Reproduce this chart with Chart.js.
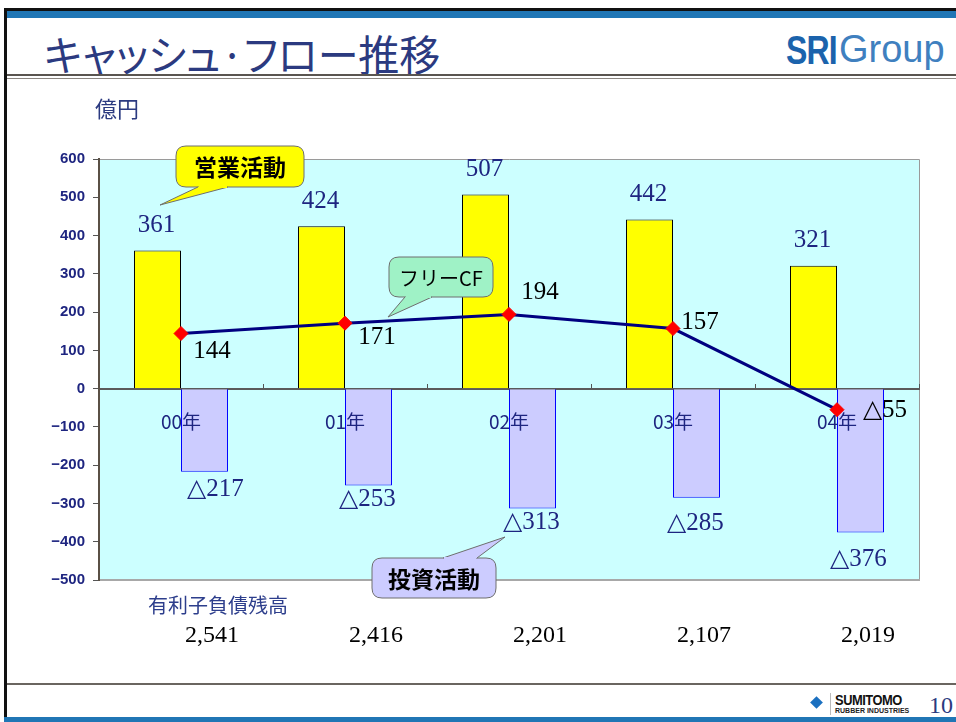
<!DOCTYPE html>
<html>
<head>
<meta charset="utf-8">
<script src="https://cdn.jsdelivr.net/npm/chart.js@4"></script>
<style>
  html, body { margin: 0; padding: 0; background: #fff; }
  #slide { position: relative; width: 956px; height: 722px; overflow: hidden; background: #fff; }
  #chart { position: absolute; left: 0; top: 0; }
  .topline { position: absolute; left: 4px; right: 0; top: 8px; height: 3px; background: #111; }
  .topband { position: absolute; left: 4px; right: 0; top: 11px; height: 7px; background: #2076b5; }
  .leftline { position: absolute; left: 4px; top: 8px; bottom: 0; width: 3px; background: #111; }
  .sep1 { position: absolute; left: 7px; right: 0; top: 74px; height: 2px; background: #5a5550; }
  .sep2 { position: absolute; left: 7px; right: 0; top: 78px; height: 1px; background: #8a8580; }
  .footline { position: absolute; left: 7px; right: 0; top: 683px; height: 2px; background: #6a6560; }
  .bottomband { position: absolute; left: 4px; right: 0; top: 717px; height: 5px; background: #2076b5; }
  .title { position: absolute; left: 44px; top: 22px; font: 41px "Noto Sans CJK JP", sans-serif; color: #2b3a80; white-space: nowrap; font-feature-settings: "palt"; transform: scale(1.0, 1.02); transform-origin: left top; }
  .logo { position: absolute; left: 786px; top: 28px; white-space: nowrap; }
  .logo .sri { display: inline-block; font: bold 40px "Liberation Sans", sans-serif; color: #1b63ac; letter-spacing: -1px; transform: scaleX(0.8); transform-origin: left top; }
  .logo .grp { position: absolute; left: 53px; top: 0; font: 38px "Liberation Sans", sans-serif; color: #3f80bf; }
  .foot { position: absolute; left: 810px; top: 692px; white-space: nowrap; }
  .dia { position: absolute; left: 2px; top: 6px; width: 9px; height: 9px; background: #1b70c0; transform: rotate(45deg); }
  .vbar { position: absolute; left: 20px; top: 1px; width: 1px; height: 22px; background: #bbb; }
  .sumi { position: absolute; left: 25px; top: 0px; font: bold 14px "Liberation Sans", sans-serif; color: #111; letter-spacing: -0.5px; transform: scaleX(0.92); transform-origin: left top; }
  .rubb { position: absolute; left: 25px; top: 15px; font: bold 7px "Liberation Sans", sans-serif; color: #222; }
  .page { position: absolute; left: 929px; top: 692px; font: 24px "Liberation Serif", serif; color: #2b3a80; }
</style>
</head>
<body>
<div id="slide">
  <div class="topline"></div>
  <div class="topband"></div>
  <div class="leftline"></div>
  <div class="title">キャッシュ·フロー推移</div>
  <div class="logo"><span class="sri">SRI</span><span class="grp">Group</span></div>
  <div class="sep1"></div>
  <div class="sep2"></div>
  <div class="footline"></div>
  <div class="foot"><div class="dia"></div><div class="vbar"></div><div class="sumi">SUMITOMO</div><div class="rubb">RUBBER INDUSTRIES</div></div>
  <div class="page">10</div>
  <div class="bottomband"></div>
  <canvas id="chart" width="956" height="722"></canvas>
</div>
<script>
// fiscal years
const years = ['00年', '01年', '02年', '03年', '04年'];
// 営業活動 (operating CF), 億円
const operating = [361, 424, 507, 442, 321];
// 投資活動 (investing CF), 億円
const investing = [-217, -253, -313, -285, -376];
// フリーCF
const freeCF = [144, 171, 194, 157, -55];
// 有利子負債残高
const debt = ['2,541', '2,416', '2,201', '2,107', '2,019'];
const yTicks = { min: -500, max: 600, step: 100 };

// label offsets (px) relative to the marks
const freeLabelDx = [31, 32, 31, 27, 48];
const freeLabelDy = [18, 14, -22, -6, 1];
const investLabelDy = [18, 14, 14, 26, 27];
const investLabelDx = [11, -1, -1, -1, -2];

const NAVY = '#1e2580';
const JP = '"Noto Sans CJK JP", sans-serif';
const SERIF = '"Liberation Serif", "Times New Roman", serif';

function roundRect(ctx, x, y, w, h, r) {
  ctx.beginPath();
  ctx.moveTo(x + r, y);
  ctx.lineTo(x + w - r, y);
  ctx.quadraticCurveTo(x + w, y, x + w, y + r);
  ctx.lineTo(x + w, y + h - r);
  ctx.quadraticCurveTo(x + w, y + h, x + w - r, y + h);
  ctx.lineTo(x + r, y + h);
  ctx.quadraticCurveTo(x, y + h, x, y + h - r);
  ctx.lineTo(x, y + r);
  ctx.quadraticCurveTo(x, y, x + r, y);
  ctx.closePath();
}

// callout: box plus a wedge tail; tail = [baseX1, baseX2, baseY, tipX, tipY]
function callout(ctx, box, tail, fill, text, font) {
  const [x, y, w, h] = box;
  ctx.save();
  ctx.fillStyle = fill;
  ctx.strokeStyle = '#6e6e6e';
  ctx.lineWidth = 1;
  roundRect(ctx, x, y, w, h, 10);
  ctx.fill();
  ctx.stroke();
  ctx.beginPath();
  ctx.moveTo(tail[0], tail[2]);
  ctx.lineTo(tail[3], tail[4]);
  ctx.lineTo(tail[1], tail[2]);
  ctx.closePath();
  ctx.fill();
  ctx.beginPath();
  ctx.moveTo(tail[0], tail[2]);
  ctx.lineTo(tail[3], tail[4]);
  ctx.lineTo(tail[1], tail[2]);
  ctx.stroke();
  // cover the box edge under the tail base
  ctx.strokeStyle = fill;
  ctx.lineWidth = 2;
  ctx.beginPath();
  ctx.moveTo(tail[0] + 1, tail[2]);
  ctx.lineTo(tail[1] - 1, tail[2]);
  ctx.stroke();
  ctx.fillStyle = '#000';
  ctx.font = font;
  ctx.textAlign = 'center';
  ctx.textBaseline = 'middle';
  ctx.fillText(text, x + w / 2, y + h / 2 + 1);
  ctx.restore();
}

const slidePlugin = {
  id: 'slide',
  beforeDraw(chart) {
    const { ctx, chartArea: a } = chart;
    ctx.save();
    ctx.fillStyle = '#ccffff';
    ctx.fillRect(a.left, a.top, a.right - a.left, a.bottom - a.top);
    ctx.strokeStyle = '#9a9a9a';
    ctx.lineWidth = 1;
    ctx.beginPath();
    ctx.moveTo(a.left, a.top + 0.5);
    ctx.lineTo(a.right + 0.5, a.top + 0.5);
    ctx.lineTo(a.right + 0.5, a.bottom);
    ctx.stroke();
    ctx.strokeStyle = '#a8a8a8';
    ctx.lineWidth = 2;
    ctx.beginPath();
    ctx.moveTo(a.left, a.bottom);
    ctx.lineTo(a.right + 1, a.bottom);
    ctx.stroke();
    ctx.restore();
  },
  afterDraw(chart) {
    const { ctx } = chart;
    const x = chart.scales.x;
    const opMeta = chart.getDatasetMeta(1);
    const invMeta = chart.getDatasetMeta(2);
    const fcMeta = chart.getDatasetMeta(0);
    ctx.save();
    ctx.textAlign = 'center';
    ctx.textBaseline = 'middle';
    ctx.font = '25px ' + SERIF;
    ctx.fillStyle = NAVY;
    opMeta.data.forEach((bar, i) => {
      ctx.fillText(String(operating[i]), bar.x - 1, bar.y - 25);
    });
    invMeta.data.forEach((bar, i) => {
      ctx.fillText('△' + Math.abs(investing[i]), bar.x + investLabelDx[i], bar.y + investLabelDy[i]);
    });
    ctx.fillStyle = '#000';
    fcMeta.data.forEach((pt, i) => {
      const s = freeCF[i] < 0 ? '△' + Math.abs(freeCF[i]) : String(freeCF[i]);
      ctx.fillText(s, pt.x + freeLabelDx[i], pt.y + freeLabelDy[i]);
    });
    // debt row
    ctx.font = '24px ' + SERIF;
    debt.forEach((d, i) => {
      ctx.fillText(d, x.getPixelForValue(i) + 31, 636);
    });
    ctx.textAlign = 'left';
    ctx.font = '20px ' + JP;
    ctx.fillStyle = '#2d3e8c';
    ctx.fillText('有利子負債残高', 148, 605);
    ctx.font = '22px ' + JP;
    ctx.fillStyle = '#2b3a80';
    ctx.fillText('億円', 95, 109);
    ctx.restore();

    callout(ctx, [176, 146, 128, 41], [198, 228, 187, 160, 205], '#ffff00', '営業活動', 'bold 23px ' + JP);
    callout(ctx, [389, 257, 104, 40], [405, 432, 297, 388, 317], '#9ff2c6', 'フリーCF', '20px ' + JP);
    callout(ctx, [372, 558, 124, 40], [443, 477, 558, 505, 537], '#ccccff', '投資活動', 'bold 23px ' + JP);
  }
};

new Chart(document.getElementById('chart'), {
  type: 'bar',
  data: {
    labels: years,
    datasets: [
      {
        type: 'line', label: 'フリーCF', data: freeCF, order: 0,
        borderColor: '#000080', borderWidth: 3, tension: 0,
        pointStyle: 'rectRot', pointRadius: 7, pointBackgroundColor: '#ff0000',
        pointBorderColor: '#ff0000', pointBorderWidth: 1
      },
      { label: '営業活動', data: operating, order: 1, backgroundColor: '#ffff00', borderColor: '#000000', borderWidth: 1 },
      { label: '投資活動', data: investing, order: 1, backgroundColor: '#ccccff', borderColor: '#0000ff', borderWidth: 1 }
    ]
  },
  options: {
    responsive: false,
    devicePixelRatio: 1,
    animation: false,
    layout: { padding: { left: 0, top: 159, right: 37, bottom: 142 } },
    datasets: { bar: { categoryPercentage: 0.573, barPercentage: 1 } },
    plugins: { legend: { display: false }, tooltip: { enabled: false } },
    scales: {
      x: {
        position: { y: 0 },
        offset: true,
        grid: { offset: true, drawOnChartArea: false, drawTicks: true, tickLength: -6, color: '#555' },
        border: { display: true, color: '#5a5a5a', width: 2 },
        ticks: { z: 1, color: NAVY, font: { family: JP, size: 19 }, padding: 28, maxRotation: 0 }
      },
      y: {
        min: yTicks.min, max: yTicks.max,
        afterFit: s => { s.width = 99; },
        grid: { drawOnChartArea: false, drawTicks: true, tickLength: 6, color: '#555' },
        border: { display: true, color: '#5a5045', width: 2 },
        ticks: {
          stepSize: yTicks.step, padding: 8, color: NAVY,
          font: { family: '"Liberation Sans", Arial, sans-serif', size: 15, weight: 'bold' },
          callback: v => String(v).replace('-', '−')
        }
      }
    }
  },
  plugins: [slidePlugin]
});
</script>
</body>
</html>
